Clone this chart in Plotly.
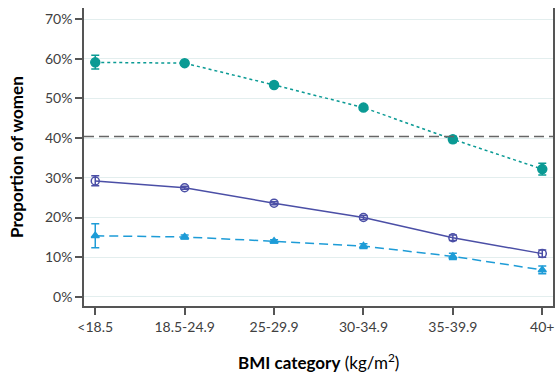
import plotly.graph_objects as go

categories = ["<18.5", "18.5-24.9", "25-29.9", "30-34.9", "35-39.9", "40+"]

teal_vals = [59.1, 58.9, 53.4, 47.7, 39.7, 32.2]
teal_err_plus = [1.8, 0.4, 0.4, 0.5, 0.8, 1.5]
teal_err_minus = [1.7, 0.4, 0.4, 0.5, 0.8, 1.5]

purple_vals = [29.2, 27.5, 23.6, 20.0, 14.9, 10.9]
purple_err_plus = [1.3, 0.4, 0.4, 0.5, 0.7, 0.9]
purple_err_minus = [1.2, 0.4, 0.4, 0.5, 0.7, 0.9]

blue_vals = [15.4, 15.1, 14.0, 12.8, 10.2, 6.8]
blue_err_plus = [3.0, 0.5, 0.4, 0.6, 0.8, 1.0]
blue_err_minus = [3.0, 0.5, 0.4, 0.6, 0.8, 1.0]

ref_value = 40.4
y_ticks = [0, 10, 20, 30, 40, 50, 60, 70]
y_tick_labels = ["0%", "10%", "20%", "30%", "40%", "50%", "60%", "70%"]

x_idx = list(range(len(categories)))

fig = go.Figure()

def add_series(vals, ep, em, color, dash, symbol, msize):
    fig.add_trace(go.Scatter(
        x=x_idx, y=vals, mode="lines+markers",
        line=dict(color=color, width=1.5, dash=dash),
        marker=dict(symbol=symbol, size=msize, color=color,
                    line=dict(color=color, width=1.5)),
        error_y=dict(type="data", array=ep, arrayminus=em, symmetric=False,
                     color=color, thickness=1.5, width=4),
        showlegend=False,
    ))

add_series(teal_vals, teal_err_plus, teal_err_minus, "#0a9a94", "3px,3px", "circle", 9)
add_series(purple_vals, purple_err_plus, purple_err_minus, "#4b4fa6", "solid", "circle-open", 8)
add_series(blue_vals, blue_err_plus, blue_err_minus, "#1e9cd7", "9px,5px", "triangle-up", 7)

fig.add_shape(type="line", xref="paper", yref="y", x0=0, x1=1, y0=ref_value, y1=ref_value,
              line=dict(color="#666666", width=1.5, dash="10px,5px"))

font_family = "Lato, 'Open Sans', sans-serif"

fig.add_annotation(text="<b>BMI category</b> (kg/m<sup>2</sup>)", xref="paper", yref="paper",
                   x=0.5, y=-0.186, xanchor="center", yanchor="middle", showarrow=False,
                   font=dict(size=17, color="#000000"))
fig.add_annotation(text="<b>Proportion of women</b>", xref="paper", yref="paper",
                   x=-0.145, y=0.5, xanchor="center", yanchor="middle", showarrow=False,
                   textangle=-90, font=dict(size=17, color="#000000"))

fig.update_layout(
    template="none",
    width=557, height=381,
    margin=dict(l=84, r=4, t=8, b=75),
    plot_bgcolor="white", paper_bgcolor="white",
    font=dict(family=font_family, color="#404040", size=14),
    xaxis=dict(
        tickmode="array", tickvals=x_idx, ticktext=categories,
        range=[-0.126, 5.12], automargin=False,
        showgrid=False, zeroline=False,
        showline=True, linecolor="#555555", linewidth=1.5,
        ticks="outside", ticklen=7, tickcolor="#555555", tickwidth=1.5,
        tickfont=dict(size=14, color="#404040"),
    ),
    yaxis=dict(
        tickmode="array", tickvals=y_ticks, ticktext=y_tick_labels,
        range=[-2.3, 72.8], automargin=False,
        showgrid=True, gridcolor="#e3eeee", gridwidth=1,
        zeroline=False,
        showline=True, linecolor="#555555", linewidth=1.5, mirror=True,
        ticks="outside", ticklen=7, tickcolor="#555555", tickwidth=1.5,
        tickfont=dict(size=14, color="#404040"),
    ),
)

fig.write_html("out.html", config={"displayModeBar": False},
               post_script="document.body.style.margin='0';document.body.style.overflow='hidden';")
